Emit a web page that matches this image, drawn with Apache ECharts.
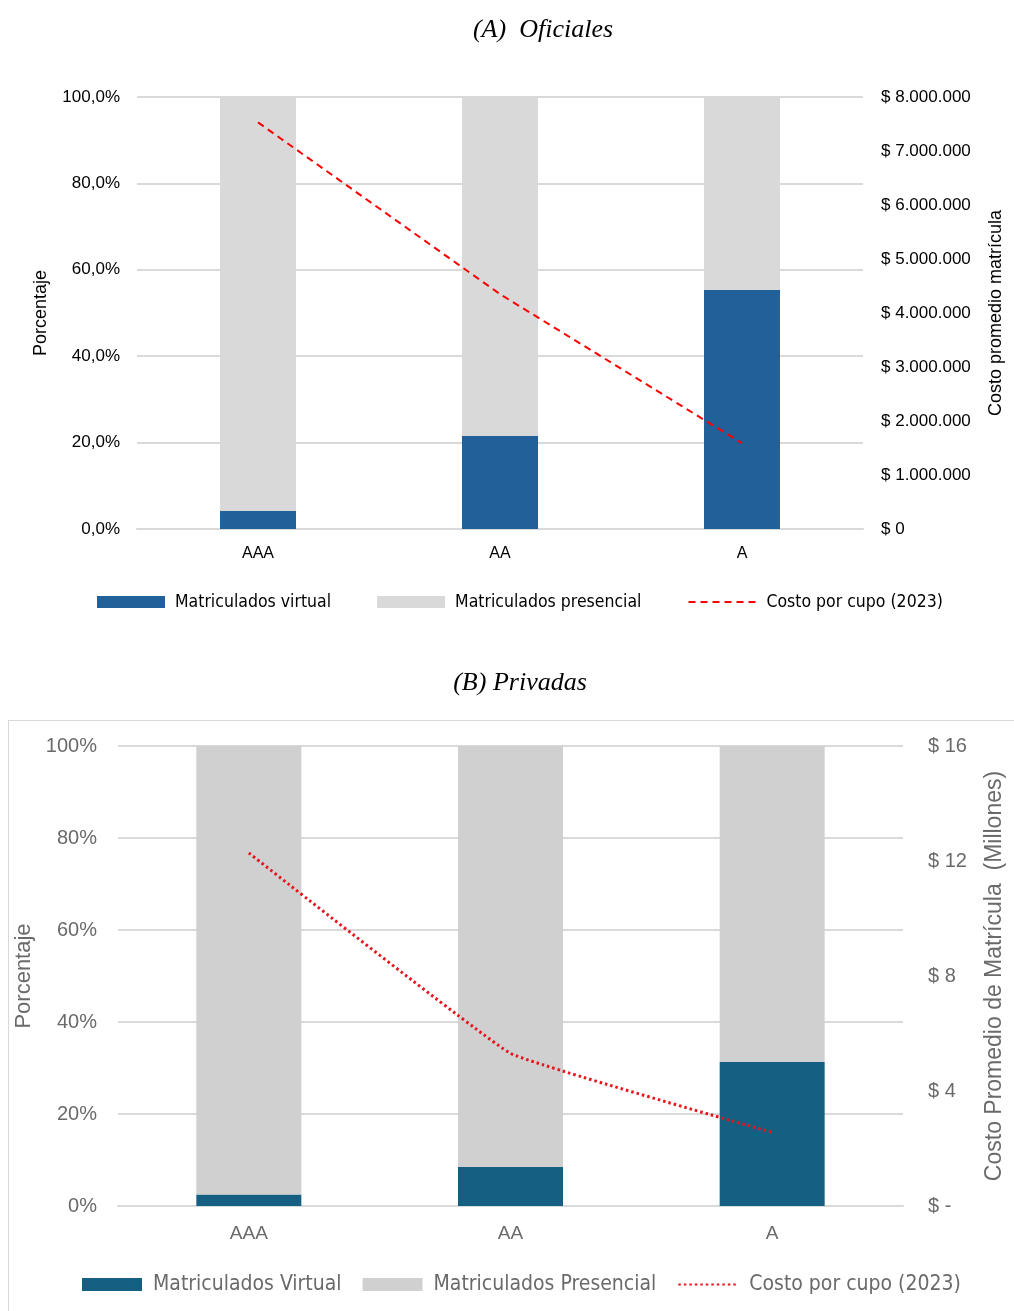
<!DOCTYPE html>
<html>
<head>
<meta charset="utf-8">
<script src="https://cdn.jsdelivr.net/npm/echarts@6/dist/echarts.min.js"></script>
<style>
  html, body { margin: 0; padding: 0; background: #fff; overflow: hidden; }
  #wrap { position: relative; width: 1014px; height: 1311px; overflow: hidden; }
  #c1 { position: absolute; left: 0; top: 0; width: 1014px; height: 650px; }
  #box { position: absolute; left: 8px; top: 720px; width: 1010px; height: 600px; border: 1px solid #d9d9d9; box-sizing: border-box; }
  #c2 { position: absolute; left: 0; top: 650px; width: 1014px; height: 661px; }
</style>
</head>
<body>
<div id="wrap">
  <div id="c1"></div>
  <div id="box"></div>
  <div id="c2"></div>
</div>
<script>
// ---------- Data ----------
const categories = ['AAA', 'AA', 'A'];

// (A) Oficiales
const oficialesVirtual = [4.2, 21.6, 55.3];          // %
const oficialesPresencial = [95.8, 78.4, 44.7];      // %
const oficialesCosto = [7530000, 4350000, 1590000];  // $

// (B) Privadas
const privadasVirtual = [2.5, 8.5, 31.3];            // %
const privadasPresencial = [97.5, 91.5, 68.7];       // %
const privadasCosto = [12.28, 5.31, 2.56];           // $ millones

const titleA = '(A)  Oficiales';
const titleB = '(B) Privadas';

// ---------- Helpers ----------
function fmtThousands(v) {
  return String(Math.round(v)).replace(/\B(?=(\d{3})+(?!\d))/g, '.');
}
const narrow = "'Liberation Sans Narrow', 'DejaVu Sans Condensed', 'Liberation Sans', sans-serif";
const sans = "'Liberation Sans', Arial, sans-serif";
const serif = "'Liberation Serif', 'Times New Roman', serif";

// ---------- Chart A ----------
const c1 = echarts.init(document.getElementById('c1'), null, { renderer: 'canvas' });
c1.setOption({
  animation: false,
  title: {
    text: titleA, left: 538, top: 12, textAlign: 'center',
    textStyle: { fontFamily: serif, fontStyle: 'italic', fontWeight: 'normal', fontSize: 26, color: '#000' }
  },
  legend: {
    left: 92, top: 588, itemWidth: 68, itemHeight: 12, itemGap: 46,
    formatter: n => ' ' + n,
    textStyle: { fontFamily: narrow, fontSize: 17.5, color: '#000' },
    data: [
      { name: 'Matriculados virtual', icon: 'rect' },
      { name: 'Matriculados presencial', icon: 'rect' },
      { name: 'Costo por cupo (2023)', itemStyle: { opacity: 0 } }
    ]
  },
  grid: { left: 137, right: 151, top: 97, bottom: 121 },
  xAxis: {
    type: 'category', data: categories,
    axisTick: { show: false },
    axisLine: { lineStyle: { color: '#d9d9d9', width: 2 } },
    axisLabel: { fontFamily: sans, fontSize: 16, color: '#000', margin: 17 }
  },
  yAxis: [
    {
      type: 'value', min: 0, max: 100, interval: 20,
      name: 'Porcentaje', nameLocation: 'middle', nameGap: 87, nameRotate: 90,
      nameTextStyle: { fontFamily: sans, fontSize: 18, color: '#000' },
      axisLine: { show: false }, axisTick: { show: false },
      axisLabel: { fontFamily: sans, fontSize: 17, color: '#000', margin: 17,
        formatter: v => v.toFixed(1).replace('.', ',') + '%' },
      splitLine: { lineStyle: { color: '#d9d9d9', width: 2 } }
    },
    {
      type: 'value', min: 0, max: 8000000, interval: 1000000,
      name: 'Costo promedio matrícula', nameLocation: 'middle', nameGap: 124, nameRotate: 90,
      nameTextStyle: { fontFamily: sans, fontSize: 18, color: '#000' },
      axisLine: { show: false }, axisTick: { show: false },
      axisLabel: { fontFamily: sans, fontSize: 17, color: '#000', margin: 18,
        formatter: v => '$ ' + fmtThousands(v) },
      splitLine: { show: false }
    }
  ],
  series: [
    { name: 'Matriculados virtual', type: 'bar', stack: 't', barWidth: 76, data: oficialesVirtual,
      itemStyle: { color: '#22609a' } },
    { name: 'Matriculados presencial', type: 'bar', stack: 't', barWidth: 76, data: oficialesPresencial,
      itemStyle: { color: '#d9d9d9' } },
    { name: 'Costo por cupo (2023)', type: 'line', yAxisIndex: 1, data: oficialesCosto,
      symbol: 'none', lineStyle: { color: '#ff0000', width: 2, type: [7, 5] }, itemStyle: { color: '#ff0000' } }
  ]
});

// ---------- Chart B ----------
const c2 = echarts.init(document.getElementById('c2'), null, { renderer: 'canvas' });
c2.setOption({
  animation: false,
  title: {
    text: titleB, left: 515, top: 15, textAlign: 'center',
    textStyle: { fontFamily: serif, fontStyle: 'italic', fontWeight: 'normal', fontSize: 26, color: '#000' }
  },
  legend: {
    left: 77, top: 619, itemWidth: 60, itemHeight: 13, itemGap: 21,
    formatter: n => ' ' + n,
    textStyle: { fontFamily: narrow, fontSize: 21, color: '#6a6a6a' },
    data: [
      { name: 'Matriculados Virtual', icon: 'rect' },
      { name: 'Matriculados Presencial', icon: 'rect' },
      { name: 'Costo por cupo (2023)', itemStyle: { opacity: 0 } }
    ]
  },
  grid: { left: 118, right: 103, top: 96, bottom: 105 },
  xAxis: {
    type: 'category', data: categories,
    axisTick: { show: false },
    axisLine: { lineStyle: { color: '#d9d9d9', width: 2 } },
    axisLabel: { fontFamily: sans, fontSize: 19, color: '#6a6a6a', margin: 18 }
  },
  yAxis: [
    {
      type: 'value', min: 0, max: 100, interval: 20,
      name: 'Porcentaje', nameLocation: 'middle', nameGap: 78, nameRotate: 90,
      nameTextStyle: { fontFamily: sans, fontSize: 22, color: '#6a6a6a' },
      axisLine: { show: false }, axisTick: { show: false },
      axisLabel: { fontFamily: sans, fontSize: 20, color: '#6a6a6a', margin: 21,
        formatter: v => v + '%' },
      splitLine: { lineStyle: { color: '#d9d9d9', width: 2 } }
    },
    {
      type: 'value', min: 0, max: 16, interval: 4,
      name: 'Costo Promedio de Matrícula  (Millones)', nameLocation: 'middle', nameGap: 80, nameRotate: 90,
      nameTextStyle: { fontFamily: sans, fontSize: 23, color: '#6a6a6a' },
      axisLine: { show: false }, axisTick: { show: false },
      axisLabel: { fontFamily: sans, fontSize: 20, color: '#6a6a6a', margin: 25,
        formatter: v => v === 0 ? '$ -' : '$ ' + v },
      splitLine: { show: false }
    }
  ],
  series: [
    { name: 'Matriculados Virtual', type: 'bar', stack: 't', barWidth: 105, data: privadasVirtual,
      itemStyle: { color: '#156082' } },
    { name: 'Matriculados Presencial', type: 'bar', stack: 't', barWidth: 105, data: privadasPresencial,
      itemStyle: { color: '#d0d0d0' } },
    { name: 'Costo por cupo (2023)', type: 'line', yAxisIndex: 1, data: privadasCosto,
      symbol: 'none', smooth: 0.08, lineStyle: { color: '#e8141c', width: 3, type: [2.5, 3] }, itemStyle: { color: '#e8141c' } }
  ]
});
</script>
</body>
</html>
